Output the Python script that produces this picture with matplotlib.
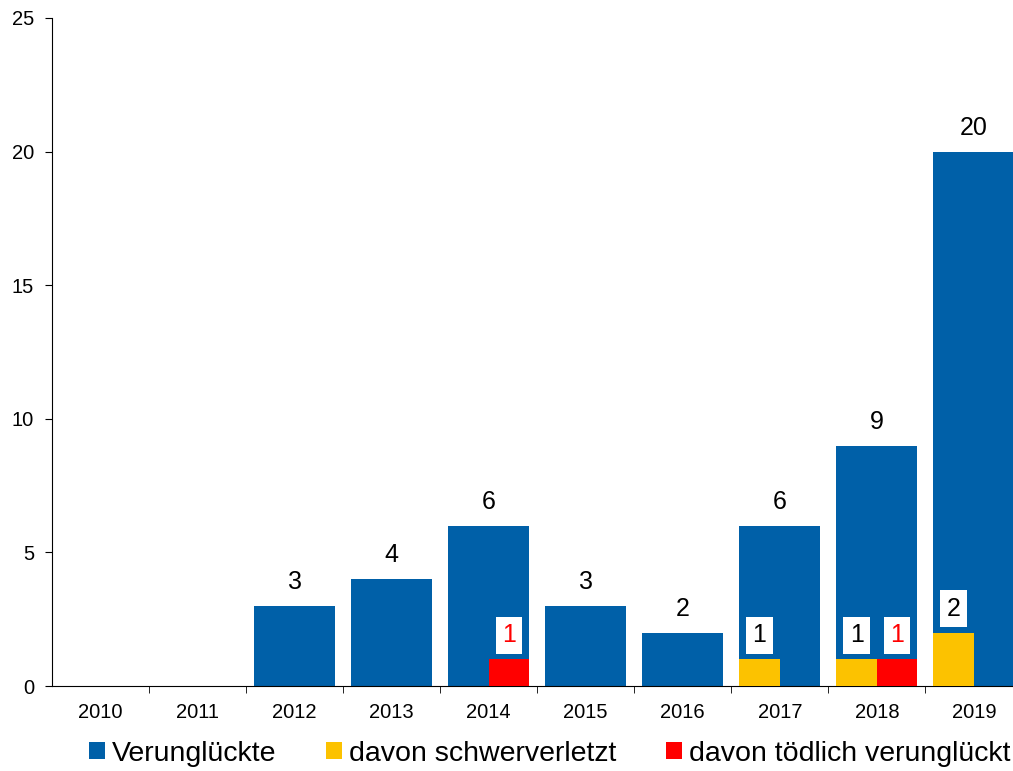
import matplotlib.pyplot as plt
import numpy as np

plt.rcParams['font.family'] = ['Liberation Sans', 'DejaVu Sans']

years = ['2010', '2011', '2012', '2013', '2014', '2015', '2016', '2017', '2018', '2019']
verunglueckte = [0, 0, 3, 4, 6, 3, 2, 6, 9, 20]
schwerverletzt = [0, 0, 0, 0, 0, 0, 0, 1, 1, 2]
toedlich = [0, 0, 0, 0, 1, 0, 0, 0, 1, 0]

blue = '#0060a8'
yellow = '#fcc200'
red = '#ff0000'

fig = plt.figure(figsize=(10.13, 7.71), dpi=100)
# right edge of the axes runs a little past the figure, as in the original
ax = fig.add_axes([0.0513, 0.1102, 0.958, 0.8665])

x = np.arange(len(years))
w = 0.835
ax.bar(x, verunglueckte, width=w, color=blue, label='Verunglückte', zorder=2)
ax.bar(x - w / 4, schwerverletzt, width=w / 2, color=yellow, label='davon schwerverletzt', zorder=3)
ax.bar(x + w / 4, toedlich, width=w / 2, color=red, label='davon tödlich verunglückt', zorder=3)

# labels over the main bars
for xi, v in zip(x, verunglueckte):
    if v > 0:
        ax.text(xi, v + 0.45, str(v), ha='center', va='bottom', fontsize=18)

box = dict(boxstyle='square,pad=0.25', fc='white', ec='none')
for xi, v in zip(x, schwerverletzt):
    if v > 0:
        ax.text(xi - w / 4, v + 0.9, str(v), ha='center', va='center', fontsize=18,
                color='black', bbox=box, zorder=4)
for xi, v in zip(x, toedlich):
    if v > 0:
        ax.text(xi + w / 4, v + 0.9, str(v), ha='center', va='center', fontsize=18,
                color=red, bbox=box, zorder=4)

ax.set_xlim(-0.5, len(years) - 0.5)
ax.set_ylim(0, 25)
ax.set_yticks(range(0, 26, 5))
ax.set_xticks(x)
ax.set_xticklabels(years)
ax.set_xticks(np.arange(0.5, len(years) - 0.5, 1), minor=True)
ax.tick_params(axis='x', which='major', length=0, pad=12, labelsize=14.5)
ax.tick_params(axis='x', which='minor', length=5, direction='out')
ax.tick_params(axis='y', length=5, direction='out', labelsize=14.5, pad=8)
ax.spines['top'].set_visible(False)
ax.spines['right'].set_visible(False)

fig.legend(loc='lower center', bbox_to_anchor=(0.543, -0.028), ncol=3, frameon=False,
           fontsize=20.5, handlelength=0.55, handleheight=0.55, handletextpad=0.25,
           columnspacing=1.75)

fig.savefig('out.png')
plt.close(fig)
